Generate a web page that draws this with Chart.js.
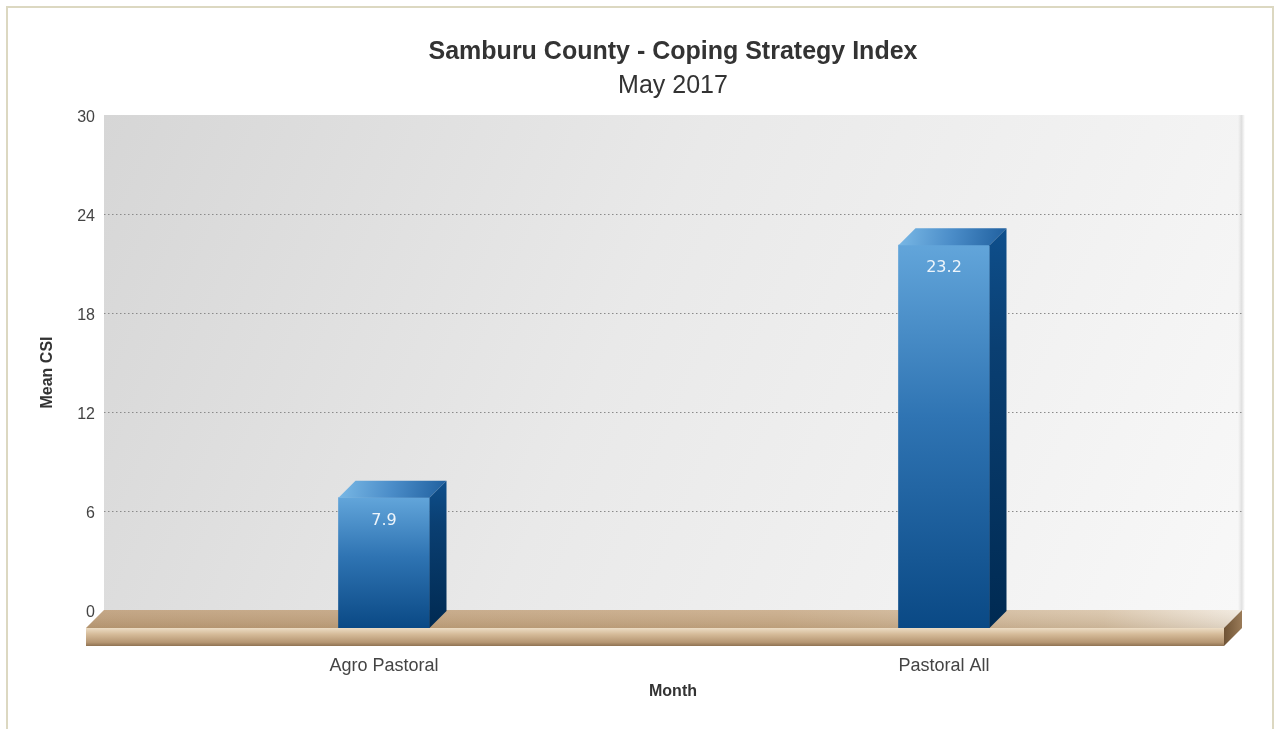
<!DOCTYPE html>
<html>
<head>
<meta charset="utf-8">
<title>Samburu County - Coping Strategy Index</title>
<script src="https://cdn.jsdelivr.net/npm/chart.js@4/dist/chart.umd.min.js"></script>
<style>
  html, body { margin: 0; padding: 0; background: #ffffff; }
  #wrap { width: 1281px; height: 729px; position: relative; }
</style>
</head>
<body>
<div id="wrap"><canvas id="csi" width="1281" height="729"></canvas></div>
<script>
// Chart data
const categories = ['Agro Pastoral', 'Pastoral All'];
const meanCSI = [7.9, 23.2];
const yTickValues = [0, 6, 12, 18, 24, 30];

const chartTitle = 'Samburu County - Coping Strategy Index';
const chartSubtitle = 'May 2017';
const xAxisName = 'Month';
const yAxisName = 'Mean CSI';

// 3D look: floor slab thickness / depth and bar depth (pixels)
const FLOOR_DEPTH = 18;
const BAR_DEPTH = 17;

const sansFont = "'Liberation Sans', Arial, Helvetica, sans-serif";

// Frame around the whole chart, captions and axis names centred on the plot
const framePlugin = {
  id: 'frame',
  beforeDraw(chart) {
    const ctx = chart.ctx;
    ctx.save();
    ctx.fillStyle = '#ffffff';
    ctx.fillRect(0, 0, chart.width, chart.height);
    ctx.strokeStyle = '#dcd8c1';
    ctx.lineWidth = 2;
    ctx.strokeRect(7, 7, chart.width - 15, chart.height + 10);
    ctx.restore();
  },
  afterDraw(chart) {
    const ctx = chart.ctx;
    const { left, right, top, bottom } = chart.chartArea;
    const cx = (left + right + FLOOR_DEPTH) / 2;
    ctx.save();
    ctx.textAlign = 'center';
    ctx.textBaseline = 'middle';
    ctx.fillStyle = '#333333';
    ctx.font = "bold 25px " + sansFont;
    ctx.fillText(chartTitle, cx, 52);
    ctx.font = "25px " + sansFont;
    ctx.fillText(chartSubtitle, cx, 86);

    ctx.font = "bold 16px " + sansFont;
    ctx.fillText(xAxisName, cx, 692);

    ctx.translate(48, (top + bottom + FLOOR_DEPTH) / 2 + 1);
    ctx.rotate(-Math.PI / 2);
    ctx.fillText(yAxisName, 0, 0);
    ctx.restore();
  }
};

// Back wall, dotted grid, floor slab, and 3D bar faces
const stagePlugin = {
  id: 'stage3d',
  beforeDatasetsDraw(chart) {
    const ctx = chart.ctx;
    const { left, right, top, bottom } = chart.chartArea;
    const yScale = chart.scales.y;
    const D = FLOOR_DEPTH;
    const wallRight = right + D;

    ctx.save();
    // back wall
    const wall = ctx.createLinearGradient(left, top, wallRight, bottom);
    wall.addColorStop(0, '#d6d6d6');
    wall.addColorStop(0.45, '#e9e9e9');
    wall.addColorStop(1, '#f8f8f8');
    ctx.fillStyle = wall;
    ctx.fillRect(left, top, wallRight - left, bottom - top);
    // wall right edge shade
    const edge = ctx.createLinearGradient(wallRight - 4, 0, wallRight + 3, 0);
    edge.addColorStop(0, 'rgba(0,0,0,0)');
    edge.addColorStop(0.6, 'rgba(0,0,0,0.10)');
    edge.addColorStop(1, 'rgba(0,0,0,0)');
    ctx.fillStyle = edge;
    ctx.fillRect(wallRight - 4, top, 7, bottom - top);

    // dotted horizontal grid lines
    ctx.strokeStyle = '#8a8a8a';
    ctx.lineWidth = 1;
    ctx.setLineDash([1.5, 2.5]);
    yTickValues.forEach(v => {
      if (v === yScale.min || v === yScale.max) return;
      const py = Math.round(yScale.getPixelForValue(v)) + 0.5;
      ctx.beginPath();
      ctx.moveTo(left, py);
      ctx.lineTo(wallRight, py);
      ctx.stroke();
    });
    ctx.setLineDash([]);

    // floor: top face
    const floorTop = ctx.createLinearGradient(left - D, 0, wallRight, 0);
    floorTop.addColorStop(0, '#bd9d79');
    floorTop.addColorStop(0.6, '#c8aa87');
    floorTop.addColorStop(0.88, '#d8c3a8');
    floorTop.addColorStop(1, '#f1e9de');
    ctx.fillStyle = floorTop;
    ctx.beginPath();
    ctx.moveTo(left - D, bottom + D);
    ctx.lineTo(left, bottom);
    ctx.lineTo(wallRight, bottom);
    ctx.lineTo(right, bottom + D);
    ctx.closePath();
    ctx.fill();
    // shading toward the front edge of the top face
    const floorTopV = ctx.createLinearGradient(0, bottom, 0, bottom + D);
    floorTopV.addColorStop(0, 'rgba(255,255,255,0.10)');
    floorTopV.addColorStop(1, 'rgba(120,90,50,0.15)');
    ctx.fillStyle = floorTopV;
    ctx.fill();

    // floor: front face
    const floorFront = ctx.createLinearGradient(0, bottom + D, 0, bottom + 2 * D);
    floorFront.addColorStop(0, '#ecdcc4');
    floorFront.addColorStop(0.35, '#d5bb99');
    floorFront.addColorStop(0.8, '#b59672');
    floorFront.addColorStop(1, '#8f7252');
    ctx.fillStyle = floorFront;
    ctx.fillRect(left - D, bottom + D, right - (left - D), D);

    // floor: right side face
    const floorSide = ctx.createLinearGradient(right, 0, wallRight, 0);
    floorSide.addColorStop(0, '#6f5335');
    floorSide.addColorStop(1, '#9a7b58');
    ctx.fillStyle = floorSide;
    ctx.beginPath();
    ctx.moveTo(right, bottom + D);
    ctx.lineTo(wallRight, bottom);
    ctx.lineTo(wallRight, bottom + D);
    ctx.lineTo(right, bottom + 2 * D);
    ctx.closePath();
    ctx.fill();
    ctx.restore();

    // bar front faces are drawn by Chart.js on the front plane of the floor
    ctx.save();
    ctx.translate(0, FLOOR_DEPTH);
  },
  afterDatasetsDraw(chart) {
    const ctx = chart.ctx;
    ctx.restore();
    const B = BAR_DEPTH;
    const meta = chart.getDatasetMeta(0);
    const values = chart.data.datasets[0].data;
    ctx.save();
    meta.data.forEach((bar, i) => {
      const p = bar.getProps(['x', 'y', 'base', 'width'], true);
      const l = p.x - p.width / 2;
      const r = p.x + p.width / 2;
      const t = p.y + FLOOR_DEPTH;
      const b = p.base + FLOOR_DEPTH;

      // top face
      const topG = ctx.createLinearGradient(l, t - B, r + B, t);
      topG.addColorStop(0, '#7ab9e6');
      topG.addColorStop(0.5, '#4a8cc8');
      topG.addColorStop(1, '#1f5f9e');
      ctx.fillStyle = topG;
      ctx.beginPath();
      ctx.moveTo(l, t);
      ctx.lineTo(l + B, t - B);
      ctx.lineTo(r + B, t - B);
      ctx.lineTo(r, t);
      ctx.closePath();
      ctx.fill();

      // side face
      const sideG = ctx.createLinearGradient(0, t - B, 0, b);
      sideG.addColorStop(0, '#0e4f8c');
      sideG.addColorStop(0.3, '#0a3f72');
      sideG.addColorStop(1, '#002a52');
      ctx.fillStyle = sideG;
      ctx.beginPath();
      ctx.moveTo(r, t);
      ctx.lineTo(r + B, t - B);
      ctx.lineTo(r + B, b - B);
      ctx.lineTo(r, b);
      ctx.closePath();
      ctx.fill();

      // value label inside the bar
      ctx.fillStyle = '#eef5fb';
      ctx.font = "16px 'DejaVu Sans', sans-serif";
      ctx.textAlign = 'center';
      ctx.textBaseline = 'middle';
      ctx.fillText(String(values[i]), p.x, t + 23);
    });
    ctx.restore();
  }
};

function frontFaceFill(context) {
  const chart = context.chart;
  if (!chart.chartArea) return '#2a6aa8';
  const yScale = chart.scales.y;
  const v = context.raw;
  const top = yScale.getPixelForValue(v);
  const base = yScale.getPixelForValue(0);
  const g = chart.ctx.createLinearGradient(0, top, 0, base);
  g.addColorStop(0, '#62a5da');
  g.addColorStop(0.45, '#2f74b3');
  g.addColorStop(1, '#0a4985');
  return g;
}

new Chart(document.getElementById('csi'), {
  type: 'bar',
  data: {
    labels: categories,
    datasets: [{
      label: 'Mean CSI',
      data: meanCSI,
      backgroundColor: frontFaceFill,
      borderWidth: 0,
      barThickness: 91
    }]
  },
  options: {
    responsive: false,
    animation: false,
    devicePixelRatio: 1,
    layout: { padding: { top: 115, left: 40, right: 57, bottom: 27 } },
    plugins: {
      legend: { display: false },
      tooltip: { enabled: false },
      title: { display: false },
      subtitle: { display: false }
    },
    scales: {
      x: {
        afterFit(scale) { scale.height = 92; },
        grid: { display: false, drawTicks: false },
        border: { display: false },
        ticks: {
          color: '#444444',
          font: { family: sansFont, size: 18 },
          padding: 45
        }
      },
      y: {
        min: 0,
        max: 30,
        afterBuildTicks(scale) {
          scale.ticks = yTickValues.map(v => ({ value: v }));
        },
        afterFit(scale) { scale.width = 64; },
        grid: { display: false, drawTicks: false },
        border: { display: false },
        ticks: {
          color: '#444444',
          font: { family: sansFont, size: 16 },
          padding: 9,
          labelOffset: 3
        }
      }
    }
  },
  plugins: [framePlugin, stagePlugin]
});
</script>
</body>
</html>
